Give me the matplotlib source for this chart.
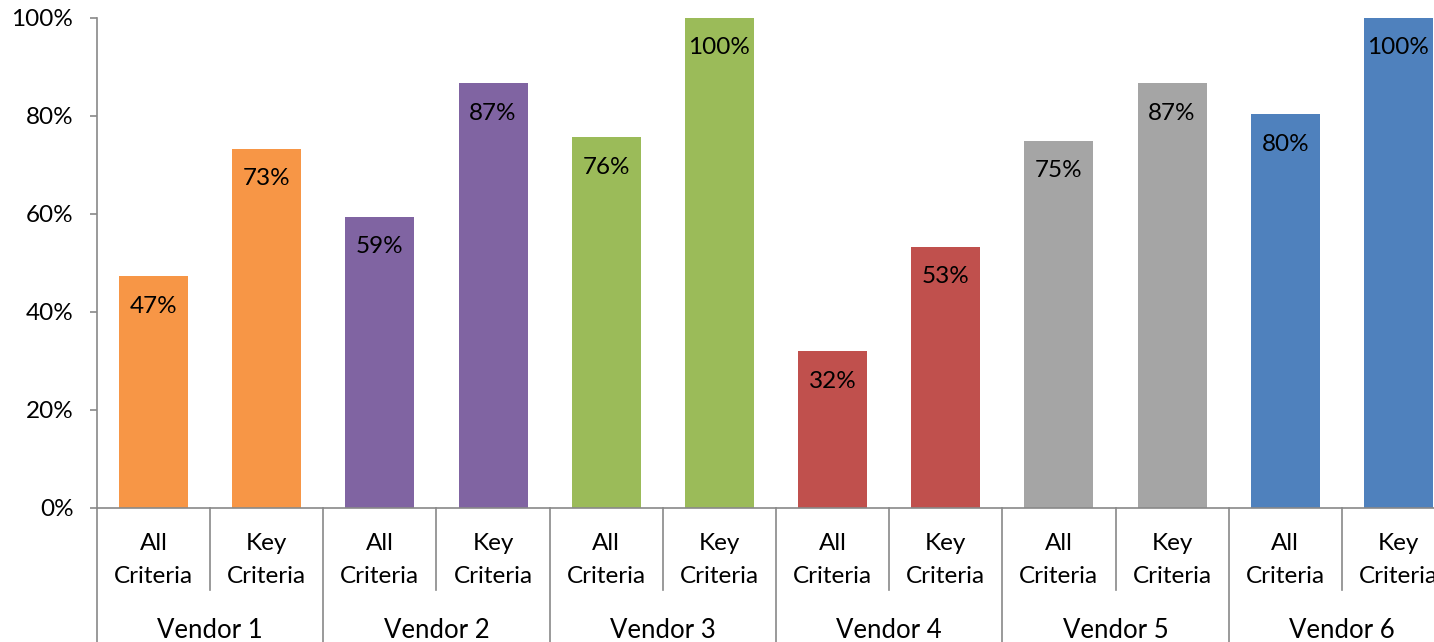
import numpy as np
import matplotlib.pyplot as plt
from matplotlib.ticker import PercentFormatter

vendors = ["Vendor 1", "Vendor 2", "Vendor 3", "Vendor 4", "Vendor 5", "Vendor 6"]
criteria = ["All\nCriteria", "Key\nCriteria"]
all_criteria = [0.473, 0.594, 0.757, 0.320, 0.749, 0.804]
key_criteria = [0.733, 0.867, 1.000, 0.533, 0.867, 1.000]
colors = ["#F79646", "#8064A2", "#9BBB59", "#C0504D", "#A5A5A5", "#4F81BD"]

plt.rcParams["font.family"] = ["Lato", "DejaVu Sans"]
axis_grey = "#898989"

values = []
bar_colors = []
for a, k, c in zip(all_criteria, key_criteria, colors):
    values += [a, k]
    bar_colors += [c, c]
x = np.arange(len(values))

fig = plt.figure(figsize=(14.34, 6.42), dpi=100)
# plot area runs past the right edge of the canvas
ax = fig.add_axes([97 / 1434, 134 / 642, 1358 / 1434, 490 / 642])

ax.bar(x, values, width=0.61, color=bar_colors, zorder=2)
for xi, v in zip(x, values):
    ax.annotate(f"{v * 100:.0f}%", xy=(xi, v), xytext=(0, -30), textcoords="offset pixels",
                ha="center", va="center", fontsize=17.5, color="black")

ax.set_xlim(-0.5, len(values) - 0.5)
ax.set_ylim(0, 1)
ax.set_yticks(np.arange(0, 1.01, 0.2))
ax.yaxis.set_major_formatter(PercentFormatter(1.0, decimals=0))
ax.tick_params(axis="y", direction="out", length=5, width=1.2, color=axis_grey,
               labelsize=17.5, pad=12)
ax.set_xticks([])

for s in ["top", "right"]:
    ax.spines[s].set_visible(False)
for s in ["left", "bottom"]:
    ax.spines[s].set_color(axis_grey)
    ax.spines[s].set_linewidth(1.2)

# two-level category axis
trans = ax.get_xaxis_transform()
for i in range(len(values) + 1):
    bottom = -0.3 if i % 2 == 0 else -0.167
    ax.plot([i - 0.5, i - 0.5], [0, bottom], color=axis_grey, lw=1.2,
            transform=trans, clip_on=False)
for i, v in enumerate(values):
    ax.text(i, -0.106, criteria[i % 2], transform=trans, ha="center", va="center",
            fontsize=17.5, linespacing=1.75)
for j, name in enumerate(vendors):
    ax.text(2 * j + 0.5, -0.249, name, transform=trans, ha="center", va="center",
            fontsize=18.5)

fig.savefig("out.png", dpi=100)
